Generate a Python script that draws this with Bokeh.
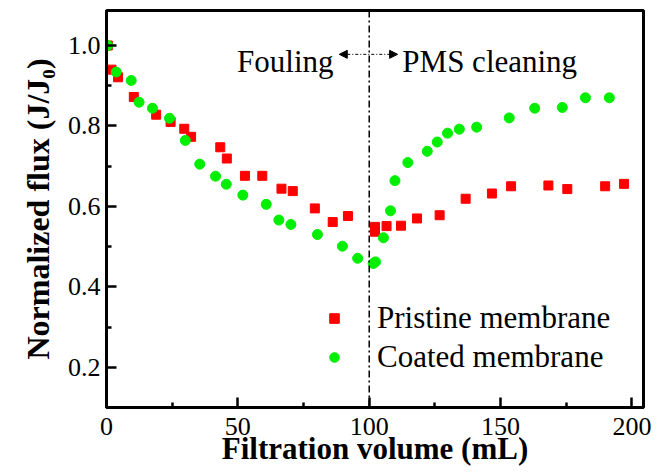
from bokeh.plotting import figure
from bokeh.models import (Range1d, FixedTicker, Span, Label, Arrow, NormalHead,
                          Legend, LegendItem, NumeralTickFormatter)
from bokeh.embed import file_html
from bokeh.resources import INLINE

# ---------------- data ----------------
pristine_x = [0.5, 1.9, 4.4, 10.4, 18.9, 24.4, 29.6, 32.2, 43.3, 45.8, 52.7, 59.3,
              66.6, 70.9, 79.3, 86.1, 91.9, 102.2, 102.2, 106.6, 112.1, 118.2,
              126.8, 136.7, 146.7, 154.0, 168.2, 175.4, 189.8, 197.0]
pristine_y = [1.000, 0.940, 0.921, 0.872, 0.828, 0.810, 0.793, 0.773, 0.747, 0.719,
              0.676, 0.676, 0.644, 0.638, 0.595, 0.561, 0.576, 0.549, 0.537, 0.551,
              0.552, 0.570, 0.578, 0.619, 0.632, 0.650, 0.652, 0.643, 0.650, 0.656]

coated_x = [0.5, 3.7, 9.4, 12.4, 17.5, 24.0, 30.0, 35.5, 41.5, 45.6, 51.9, 60.8,
            65.6, 70.2, 80.3, 89.8, 95.6, 101.5, 102.4, 105.4, 108.1, 109.8, 114.7,
            122.1, 125.9, 129.8, 134.3, 140.9, 153.3, 163.0, 173.5, 182.3, 191.4]
coated_y = [1.000, 0.934, 0.913, 0.859, 0.844, 0.819, 0.764, 0.705, 0.675, 0.655,
            0.628, 0.605, 0.566, 0.555, 0.530, 0.501, 0.471, 0.458, 0.462, 0.522,
            0.589, 0.664, 0.709, 0.737, 0.760, 0.782, 0.792, 0.797, 0.820, 0.844,
            0.846, 0.870, 0.870]

series_labels = ["Pristine membrane", "Coated membrane"]
x_ticks = [0, 50, 100, 150, 200]
x_minor = [25, 75, 125, 175]
y_ticks = [0.2, 0.4, 0.6, 0.8, 1.0]
y_minor = [0.3, 0.5, 0.7, 0.9]
divider_x = 100
x_title = "Filtration volume (mL)"
y_title = "Normalized flux (J/J\u2080)"
left_text = "Fouling"
right_text = "PMS cleaning"

# ---------------- styling ----------------
FONT = "'Liberation Serif', 'Times New Roman', Times, 'DejaVu Serif', serif"
RED = "#ff0000"
GREEN = "#00ee00"
X0, X1 = 0, 204.4
Y0, Y1 = 0.1, 1.087
W, H = 658, 468
BL, BR, BT, BB = 106, 15, 10, 60

p = figure(width=W, height=H, x_range=Range1d(X0, X1), y_range=Range1d(Y0, Y1),
           output_backend="svg", toolbar_location=None, title=None,
           min_border_left=BL, min_border_right=BR, min_border_top=BT,
           min_border_bottom=BB)
p.background_fill_color = "white"
p.border_fill_color = "white"
p.outline_line_color = "black"
p.outline_line_width = 3
p.xgrid.visible = False
p.ygrid.visible = False

for ax in (p.xaxis[0], p.yaxis[0]):
    ax.axis_line_width = 3
    ax.axis_line_color = "black"
    ax.major_tick_in = 10
    ax.major_tick_out = 0
    ax.minor_tick_in = 5
    ax.minor_tick_out = 0
    ax.major_tick_line_width = 2.5
    ax.minor_tick_line_width = 2.5
    ax.major_tick_line_color = "black"
    ax.minor_tick_line_color = "black"
    ax.major_label_text_font = FONT
    ax.major_label_text_font_size = "26px"
    ax.major_label_text_color = "black"
    ax.axis_label_text_font = FONT
    ax.axis_label_text_font_style = "bold"
    ax.axis_label_text_color = "black"

xa = p.xaxis[0]
xa.ticker = FixedTicker(ticks=x_ticks, minor_ticks=x_minor)
xa.major_label_standoff = 10
xa.axis_label = x_title
xa.axis_label_text_font_size = "31px"
xa.axis_label_standoff = -7

ya = p.yaxis[0]
ya.ticker = FixedTicker(ticks=y_ticks, minor_ticks=y_minor)
ya.formatter = NumeralTickFormatter(format="0.0")
ya.major_label_standoff = 6
ya.axis_label = y_title
ya.axis_label_text_font_size = "32px"
ya.axis_label_standoff = 9

# divider
p.add_layout(Span(location=divider_x, dimension="height", line_color="black",
                  line_width=1.5, line_dash="7 3 2 3"))

# data
r1 = p.scatter(pristine_x, pristine_y, marker="square", size=9,
               fill_color=RED, line_color=RED)
r2 = p.scatter(coated_x, coated_y, marker="circle", size=10,
               fill_color=GREEN, line_color=GREEN)

legend = Legend(items=[LegendItem(label=series_labels[0], renderers=[r1]),
                       LegendItem(label=series_labels[1], renderers=[r2])],
                location=(216, 32), glyph_width=24, glyph_height=36,
                label_height=36, label_standoff=31, spacing=3, padding=0,
                margin=0, border_line_color=None, background_fill_alpha=0,
                label_text_font=FONT, label_text_font_size="31px",
                label_text_color="black")
p.add_layout(legend)

# annotation arrow + texts
arrow_y = 0.978
p.add_layout(Arrow(start=NormalHead(size=8, fill_color="black", line_color="black"),
                   end=NormalHead(size=8, fill_color="black", line_color="black"),
                   x_start=88.6, y_start=arrow_y, x_end=110.8, y_end=arrow_y,
                   line_color="black", line_width=1, line_dash="3 2 1 2"))
p.add_layout(Label(x=86.4, y=0.960, text=left_text, text_align="right",
                   text_baseline="alphabetic", text_font=FONT,
                   text_font_size="31px", text_color="black"))
p.add_layout(Label(x=112.6, y=0.960, text=right_text, text_align="left",
                   text_baseline="alphabetic", text_font=FONT,
                   text_font_size="31px", text_color="black"))

open("out.html", "w").write(file_html(p, INLINE))
